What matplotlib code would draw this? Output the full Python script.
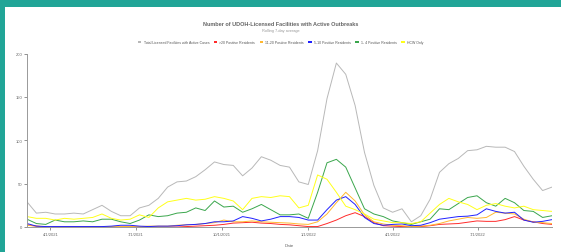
import numpy as np
import pandas as pd
import matplotlib
matplotlib.use('Agg')
import matplotlib.pyplot as plt
import matplotlib.dates as mdates
from matplotlib.patches import Rectangle, Patch

plt.rcParams['font.family'] = ['Liberation Sans', 'DejaVu Sans']

# dates every 10 days, rolling 7-day average values
dates = pd.date_range('2021-03-07', periods=57, freq='10D')

total = [29, 16, 17, 15, 15, 16, 15, 20, 25, 18, 13, 13, 22, 25, 33, 46, 52, 53, 58, 66,
         75, 72, 71, 59, 68, 81, 77, 71, 69, 52, 49, 88, 148, 189, 176, 140, 86, 48, 22, 17,
         21, 6, 13, 32, 63, 73, 79, 88, 89, 93, 92, 92, 87, 70, 55, 42, 46]
over20 = [2.5, 1, 0, 0, 0, 0, 0, 0, 0, 0, 0, 0.5, 0.5, 0, 0, 0, 0, 0.5, 1, 1.5,
          2, 3, 4.5, 5, 5.5, 4.5, 4, 3, 2.5, 1.5, 0.5, 0.5, 4, 8, 13, 16.5, 12, 5, 1.5, 1,
          0.5, 0.5, 0.5, 1.5, 3, 3.5, 4, 5.5, 7, 6.5, 6.5, 8.5, 12, 8, 6, 4, 3]
r11_20 = [2, 1, 0.5, 0.5, 0.5, 0.5, 0.5, 0.5, 0.5, 0.5, 0.5, 0.5, 0.5, 1, 1, 1, 2, 2.5, 3, 4,
          5, 8, 6, 6, 7, 6, 5.5, 5, 4.5, 3.5, 3, 6, 15, 28, 40, 30, 14, 6, 3.5, 2,
          1.5, 0.5, 1, 2, 4, 7, 9, 11, 10, 11, 17, 16, 15, 9, 5.5, 5, 4]
r5_10 = [4, 1, 0.5, 0.5, 0.5, 0.5, 0.5, 0.5, 0.5, 1, 2, 2, 1, 0.5, 1, 1, 1.5, 2.5, 3, 4,
         6, 6, 7, 12, 10, 7, 9, 12, 12, 11, 8, 8, 20, 31, 35, 26, 11, 4, 2, 3,
         3.5, 1.5, 2, 5, 9, 10.5, 12, 12.5, 14, 21, 18, 16, 17, 8, 5.5, 6.5, 8.5]
r1_4 = [9, 4, 3, 8, 6, 6, 7, 6, 9, 9, 6, 4, 8, 14, 12, 13, 16, 17, 22, 19,
        30, 23, 24, 17, 21, 26, 20, 14, 14, 15, 10, 40, 74, 78, 69, 45, 21, 15, 12, 7,
        5, 3, 6, 9, 21, 20, 27, 34, 36, 28, 24, 33, 28, 19, 18, 11, 13]
hcw = [12, 10, 10, 8, 10, 9, 10, 11, 15, 10, 8, 9, 14, 11, 22, 29, 31, 33, 31, 32,
       35, 33, 30, 20, 33, 35, 34, 36, 35, 22, 25, 60, 55, 40, 24, 20, 15, 9, 7, 5,
       5, 4, 6, 16, 26, 33, 29, 26, 20, 25, 27, 24, 22, 24, 20, 19, 18]

series = [
    ('Total Licensed Facilities with Active Cases', total, '#b8b8b8'),
    ('>20 Positive Residents', over20, '#ff2b2b'),
    ('11-20 Positive Residents', r11_20, '#ffb830'),
    ('5-10 Positive Residents', r5_10, '#2020ff'),
    ('1- 4 Positive Residents', r1_4, '#3aa64c'),
    ('HCW Only', hcw, '#ffff1a'),
]

fig = plt.figure(figsize=(5.61, 2.53), dpi=100, facecolor='#21a597')
# white card behind everything
fig.patches.append(Rectangle((5 / 561, 0), 1, 1 - 8 / 253, transform=fig.transFigure,
                             facecolor='white', edgecolor='none', zorder=-10))

ax = fig.add_axes([27 / 561, 25 / 253, 525 / 561, 173.5 / 253])
ax.set_facecolor('none')

for name, vals, col in series:
    ax.plot(dates, vals, color=col, lw=0.7, label=name)

ax.set_xlim(dates[0], dates[-1])
ax.set_ylim(0, 200)
ax.set_yticks([0, 50, 100, 150, 200])
ax.xaxis.set_major_locator(mdates.MonthLocator(bymonth=[1, 4, 7, 10]))
ax.xaxis.set_major_formatter(mdates.DateFormatter('%-m/1/%Y'))

for s in ['top', 'right']:
    ax.spines[s].set_visible(False)
for s in ['left', 'bottom']:
    ax.spines[s].set_color('#999999')
    ax.spines[s].set_linewidth(0.7)
ax.tick_params(axis='both', labelsize=3, colors='#666666', length=2, width=0.5, pad=1.5)
ax.set_xlabel('Date', fontsize=3.2, color='#666666', labelpad=5)

fig.text(0.5, 1 - 24 / 253, 'Number of UDOH-Licensed Facilities with Active Outbreaks',
         ha='center', va='center', fontsize=4, fontweight='bold', color='#666666')
fig.text(0.5, 1 - 31 / 253, 'Rolling 7-day average', ha='center', va='center',
         fontsize=2.8, color='#999999')

handles = [Patch(facecolor=c, edgecolor='none') for _, _, c in series]
labels = [n for n, _, _ in series]
fig.legend(handles, labels, loc='center', bbox_to_anchor=(0.5, 1 - 43 / 253), ncol=6,
           frameon=False, fontsize=2.5, handlelength=1.0, handleheight=0.5,
           handletextpad=0.6, columnspacing=1.3, labelcolor='#555555')

fig.savefig('out.png', dpi=100, facecolor=fig.get_facecolor())
